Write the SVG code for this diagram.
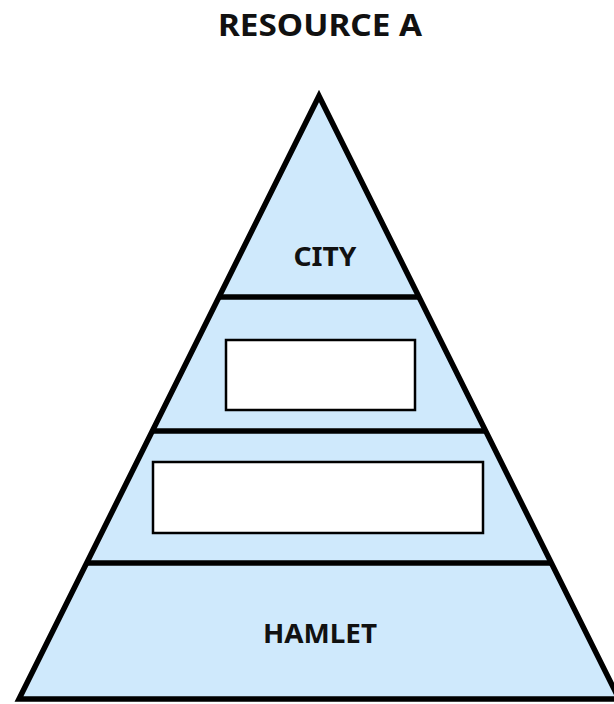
<svg xmlns="http://www.w3.org/2000/svg" width="614" height="704" viewBox="0 0 614 704">
<style>
.lbl{font-family:"Noto Sans","Open Sans","DejaVu Sans",sans-serif;font-weight:bold;fill:#111;text-anchor:middle}
.tier{fill:#cfe9fc;stroke:none}
.edge{fill:none;stroke:#000;stroke-width:5.5;stroke-linejoin:miter}
.box{fill:#fff;stroke:#000;stroke-width:2.5}
</style>
<rect width="614" height="704" fill="#fff"/>
<text class="lbl" x="320" y="36" font-size="31" textLength="204" lengthAdjust="spacingAndGlyphs">RESOURCE A</text>
<g id="pyramid">
<polygon class="tier" points="319,96 619,699 19,699"/>
</g>
<g id="connectors">
<line class="edge" x1="219" y1="297" x2="419" y2="297"/>
<line class="edge" x1="152" y1="431" x2="486" y2="431"/>
<line class="edge" x1="87" y1="563" x2="551" y2="563"/>
</g>
<g id="outline">
<polygon class="edge" points="319,96 619,699 19,699"/>
</g>
<g id="city">
<text class="lbl" x="325" y="266" font-size="27" textLength="63" lengthAdjust="spacingAndGlyphs">CITY</text>
</g>
<g id="tier2">
<rect class="box" x="226" y="340" width="189" height="70"/>
</g>
<g id="tier3">
<rect class="box" x="153" y="462" width="330" height="71"/>
</g>
<g id="hamlet">
<text class="lbl" x="320" y="643" font-size="27" textLength="114" lengthAdjust="spacingAndGlyphs">HAMLET</text>
</g>
</svg>
